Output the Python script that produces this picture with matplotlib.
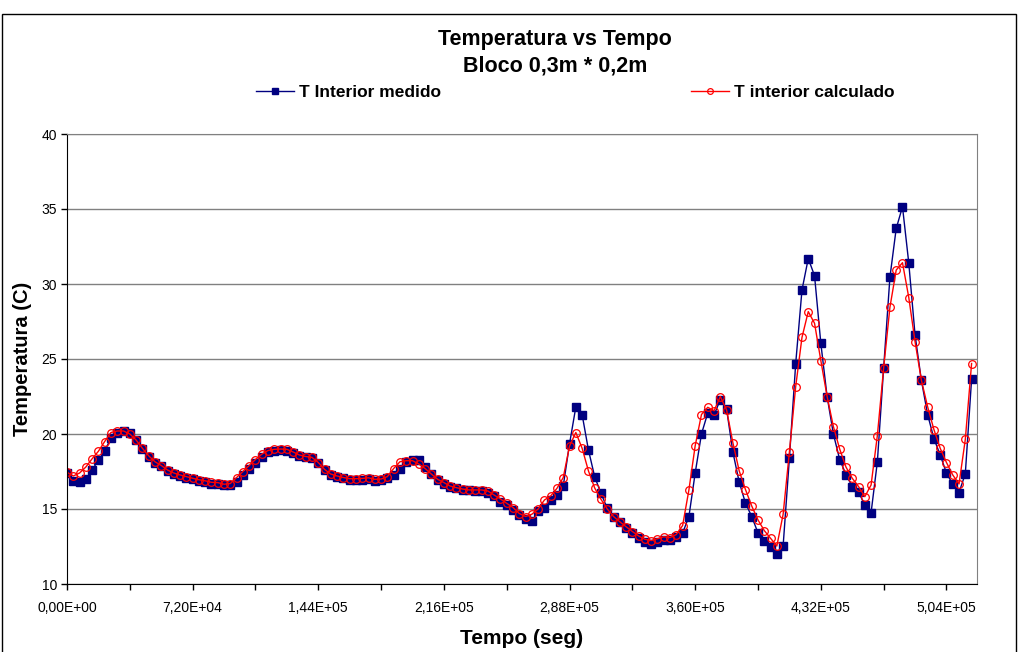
import numpy as np
import matplotlib
matplotlib.use("Agg")
import matplotlib.pyplot as plt
from matplotlib.ticker import FuncFormatter, MultipleLocator
from matplotlib.patches import Rectangle

plt.rcParams['font.family'] = ['Liberation Sans', 'DejaVu Sans']

# tempo (seg) - uma leitura por hora, 6 dias
tempo = np.arange(145) * 3600

t_medido = [
    17.4, 16.9, 16.8, 17.0, 17.6, 18.25, 18.85, 19.75, 20.1, 20.2,
    20.05, 19.6, 19.0, 18.5, 18.1, 17.85, 17.55, 17.35, 17.2, 17.1,
    17.0, 16.9, 16.8, 16.7, 16.7, 16.6, 16.6, 16.8, 17.3, 17.65,
    18.1, 18.5, 18.8, 18.9, 18.95, 18.9, 18.75, 18.55, 18.45, 18.4,
    18.05, 17.6, 17.3, 17.15, 17.05, 16.95, 16.95, 16.95, 17.0, 16.9,
    16.95, 17.1, 17.3, 17.7, 18.15, 18.25, 18.3, 17.8, 17.35, 16.95,
    16.7, 16.5, 16.4, 16.3, 16.25, 16.2, 16.2, 16.1, 15.85, 15.5,
    15.25, 14.95, 14.6, 14.35, 14.2, 14.85, 15.1, 15.6, 15.95, 16.55,
    19.35, 21.8, 21.3, 18.95, 17.15, 16.05, 15.05, 14.5, 14.15, 13.75,
    13.4, 13.05, 12.8, 12.65, 12.8, 12.95, 12.95, 13.15, 13.4, 14.5,
    17.4, 20.0, 21.4, 21.25, 22.3, 21.65, 18.8, 16.8, 15.4, 14.5,
    13.4, 12.85, 12.5, 12.0, 12.55, 18.4, 24.7, 29.6, 31.7, 30.55,
    26.05, 22.5, 20.0, 18.3, 17.3, 16.5, 16.15, 15.25, 14.75, 18.15,
    24.4, 30.45, 33.7, 35.15, 31.4, 26.6, 23.6, 21.3, 19.7, 18.6,
    17.4, 16.65, 16.1, 17.35, 23.65,
]

t_calculado = [
    17.45, 17.2, 17.4, 17.8, 18.35, 18.85, 19.5, 20.1, 20.2, 20.2,
    20.0, 19.6, 19.05, 18.55, 18.15, 17.9, 17.6, 17.4, 17.27, 17.16,
    17.05, 16.95, 16.88, 16.78, 16.76, 16.65, 16.7, 17.1, 17.5, 17.9,
    18.3, 18.65, 18.9, 18.98, 19.0, 18.98, 18.8, 18.6, 18.5, 18.44,
    18.1, 17.64, 17.33, 17.2, 17.1, 17.02, 17.02, 17.04, 17.08, 16.98,
    17.0, 17.16, 17.7, 18.15, 18.22, 18.22, 18.0, 17.7, 17.33, 16.98,
    16.76, 16.53, 16.42, 16.33, 16.27, 16.27, 16.27, 16.2, 15.93, 15.67,
    15.38, 15.1, 14.7, 14.5, 14.65, 15.0, 15.6, 15.87, 16.38, 17.1,
    19.2, 20.1, 19.05, 17.55, 16.4, 15.65, 15.0, 14.5, 14.15, 13.82,
    13.5, 13.2, 12.98, 12.9, 13.02, 13.15, 13.1, 13.3, 13.9, 16.27,
    19.22, 21.3, 21.78, 21.55, 22.5, 21.6, 19.42, 17.55, 16.3, 15.2,
    14.27, 13.56, 13.04, 12.53, 14.65, 18.82, 23.16, 26.44, 28.16, 27.38,
    24.9, 22.5, 20.5, 19.0, 17.8, 17.05, 16.5, 15.82, 16.6, 19.9,
    24.4, 28.45, 30.93, 31.42, 29.1, 26.16, 23.6, 21.82, 20.3, 19.05,
    18.1, 17.27, 16.67, 19.64, 24.7,
]

fig = plt.figure(figsize=(10.18, 6.52), dpi=100)
ax = fig.add_axes([67 / 1018, 68 / 652, 910 / 1018, 450 / 652])

# moldura do grafico
fig.patches.append(Rectangle((2 / 1018, -0.05), 1014 / 1018, 1.05 - 14 / 652,
                             transform=fig.transFigure, fill=False,
                             edgecolor='black', linewidth=1.0))

ax.plot(tempo, t_medido, color='#000080', linewidth=1.0, marker='s',
        markersize=5.5, markerfacecolor='#000080', markeredgecolor='#000080',
        label='T Interior medido')
ax.plot(tempo, t_calculado, color='red', linewidth=1.0, marker='o',
        markersize=5.5, markerfacecolor='none', markeredgecolor='red',
        markeredgewidth=0.9, label='T interior calculado')

ax.set_xlim(0, 521500)
ax.set_ylim(10, 40)
ax.xaxis.set_major_locator(MultipleLocator(72000))
ax.xaxis.set_minor_locator(MultipleLocator(36000))
ax.xaxis.set_major_formatter(FuncFormatter(lambda v, p: f"{v:.2E}".replace('.', ',')))
ax.yaxis.set_major_locator(MultipleLocator(5))
ax.tick_params(axis='both', which='both', direction='out', length=4,
               width=1, labelsize=10, color='black')
ax.tick_params(axis='x', pad=8)
ax.tick_params(axis='y', pad=3)
ax.grid(axis='y', color='#808080', linewidth=1.0)
ax.set_axisbelow(True)

for s in ['left', 'bottom']:
    ax.spines[s].set_color('black')
for s in ['right', 'top']:
    ax.spines[s].set_color('#808080')

ax.set_xlabel('Tempo (seg)', fontsize=15, fontweight='bold', labelpad=10)
ax.set_ylabel('Temperatura (C)', fontsize=14.5, fontweight='bold', labelpad=7)

fig.text(0.545, 1 - 40 / 652, 'Temperatura vs Tempo', ha='center', va='center',
         fontsize=15.5, fontweight='bold')
fig.text(0.545, 1 - 66 / 652, 'Bloco 0,3m * 0,2m', ha='center', va='center',
         fontsize=15.5, fontweight='bold')

fig.legend(loc='center', bbox_to_anchor=(0.565, 1 - 92 / 652), ncol=2,
           frameon=False, prop={'weight': 'bold', 'size': 12.5},
           handlelength=2.2, handletextpad=0.3, columnspacing=14.4,
           markerscale=0.75)

fig.savefig('out.png', dpi=100)
